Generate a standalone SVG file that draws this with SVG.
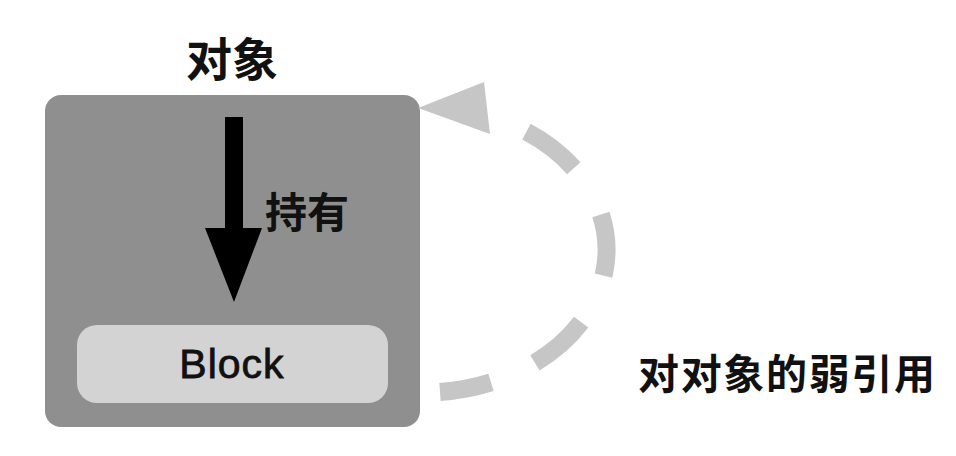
<svg xmlns="http://www.w3.org/2000/svg" width="956" height="456" viewBox="0 0 956 456">
<style>
.cjk{font-family:"Noto Sans CJK SC","Noto Sans",sans-serif;fill:#111}
.lat{font-family:"Liberation Sans",Arial,sans-serif;fill:#111}
</style>
<rect width="956" height="456" fill="#fff"/>
<g id="object">
<text class="cjk" x="232" y="76" font-size="46" font-weight="700" text-anchor="middle">对象</text>
<rect x="45" y="95" width="375" height="332" rx="16" fill="#8f8f8f"/>
</g>
<g id="block">
<rect x="77" y="325" width="311" height="78" rx="20" fill="#d3d3d3"/>
<text class="lat" x="232" y="378" font-size="41" text-anchor="middle" stroke="#111" stroke-width="0.8" letter-spacing="1">Block</text>
</g>
<g id="connectors">
<path d="M225 117H243V228H262L234 302L205 228H225Z" fill="#000"/>
<text class="cjk" x="265" y="228" font-size="42" font-weight="700">持有</text>
<path d="M440 392A184 143 0 0 0 488 116" fill="none" stroke="#c6c6c6" stroke-width="18" stroke-dasharray="52 48 62 52 62 54 60 300"/>
<polygon points="418,108 484,82 490,134" fill="#c6c6c6"/>
</g>
<text class="cjk" x="638" y="389" font-size="41" font-weight="600" textLength="297">对对象的弱引用</text>
</svg>
